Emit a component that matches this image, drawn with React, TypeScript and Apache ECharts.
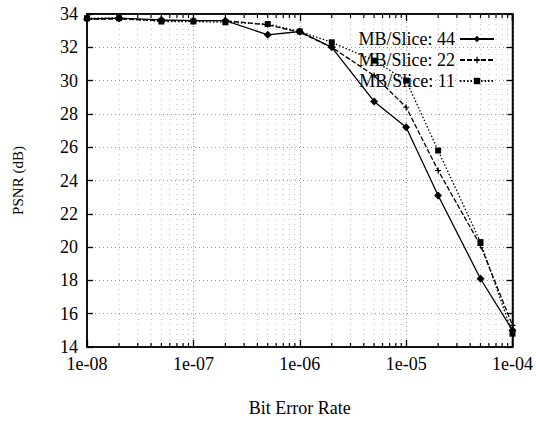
import React, { useEffect, useRef } from "react";
import * as echarts from "echarts";

const berValues = [1e-8, 2e-8, 5e-8, 1e-7, 2e-7, 5e-7, 1e-6, 2e-6, 5e-6, 1e-5, 2e-5, 5e-5, 1e-4];
const psnr44 = [33.7, 33.75, 33.65, 33.6, 33.6, 32.75, 32.95, 32.0, 28.75, 27.2, 23.1, 18.1, 15.0];
const psnr22 = [33.7, 33.7, 33.6, 33.6, 33.6, 33.35, 32.9, 32.0, 30.3, 28.4, 24.6, 20.1, 15.3];
const psnr11 = [33.75, 33.75, 33.55, 33.55, 33.5, 33.4, 32.95, 32.3, 31.2, 30.0, 25.8, 20.3, 14.8];
const seriesNames = ["MB/Slice: 44", "MB/Slice: 22", "MB/Slice: 11"];
const xTickLabels = ["1e-08", "1e-07", "1e-06", "1e-05", "1e-04"];
const decadeStarts = [1e-8, 1e-7, 1e-6, 1e-5];
const minorMultipliers = [2, 3, 4, 5, 6, 7, 8, 9];

const FONT = "Liberation Serif";
const PLUS = "path://M4,0 L6,0 L6,4 L10,4 L10,6 L6,6 L6,10 L4,10 L4,6 L0,6 L0,4 L4,4 Z";

export default function App() {
  const ref = useRef<HTMLDivElement>(null);
  useEffect(() => {
    if (!ref.current) return;
    const chart = echarts.init(ref.current, undefined, { renderer: "svg" });
    const minorX: number[] = [];
    decadeStarts.forEach((d) => minorMultipliers.forEach((m) => minorX.push(d * m)));
    const pair = (ys: number[]) => berValues.map((x, i) => [x, ys[i]]);
    const line = (name: string, ys: number[], symbol: string, size: number, type: any) => ({
      name,
      type: "line",
      data: pair(ys),
      symbol,
      symbolSize: size,
      lineStyle: { color: "#000", width: 1.3, type },
      itemStyle: { color: "#000" },
      z: 5,
    });
    chart.setOption({
      animation: false,
      backgroundColor: "#fff",
      textStyle: { fontFamily: FONT, color: "#000" },
      grid: {
        left: 87,
        right: 19,
        top: 14,
        bottom: 74,
        show: true,
        borderColor: "#000",
        borderWidth: 1.5,
      },
      legend: {
        data: seriesNames,
        orient: "vertical",
        right: 36,
        top: 25,
        align: "right",
        itemWidth: 34,
        itemHeight: 8,
        itemGap: 3,
        textStyle: { fontFamily: FONT, fontSize: 18, color: "#000" },
      },
      xAxis: [
        {
          type: "log",
          logBase: 10,
          min: 1e-8,
          max: 1e-4,
          name: "Bit Error Rate",
          nameLocation: "middle",
          nameGap: 52,
          nameTextStyle: { fontFamily: FONT, fontSize: 18, color: "#000" },
          axisLine: { lineStyle: { color: "#000", width: 1.5 } },
          axisTick: { inside: true, length: 7, lineStyle: { color: "#000", width: 1.3 } },
          axisLabel: {
            fontFamily: FONT,
            fontSize: 18,
            color: "#000",
            margin: 8,
            formatter: (v: number) => xTickLabels[Math.round(Math.log10(v)) + 8] ?? "",
          },
          splitLine: { show: true, lineStyle: { color: "#999", type: [1, 3], width: 1 } },
        },
        {
          type: "log",
          logBase: 10,
          min: 1e-8,
          max: 1e-4,
          position: "top",
          axisLine: { lineStyle: { color: "#000", width: 1.5 } },
          axisTick: { inside: true, length: 7, lineStyle: { color: "#000", width: 1.3 } },
          axisLabel: { show: false },
          splitLine: { show: false },
        },
      ],
      yAxis: [
        {
          type: "value",
          min: 14,
          max: 34,
          interval: 2,
          name: "PSNR (dB)",
          nameLocation: "middle",
          nameGap: 62,
          nameRotate: 90,
          nameTextStyle: { fontFamily: FONT, fontSize: 15, color: "#000" },
          axisLine: { show: true, lineStyle: { color: "#000", width: 1.5 } },
          axisTick: { show: true, inside: true, length: 6, lineStyle: { color: "#000", width: 1.3 } },
          axisLabel: { fontFamily: FONT, fontSize: 18, color: "#000", margin: 9 },
          splitLine: { show: true, lineStyle: { color: "#999", type: [1, 3], width: 1 } },
        },
        {
          type: "value",
          min: 14,
          max: 34,
          interval: 2,
          position: "right",
          axisLine: { show: true, lineStyle: { color: "#000", width: 1.5 } },
          axisTick: { show: true, inside: true, length: 6, lineStyle: { color: "#000", width: 1.3 } },
          axisLabel: { show: false },
          splitLine: { show: false },
        },
      ],
      series: [
        {
          name: "minor",
          type: "custom",
          silent: true,
          z: 1,
          data: minorX.map((x) => [x]),
          renderItem: (_p: any, api: any) => {
            const x = api.value(0);
            const top = api.coord([x, 34]);
            const bottom = api.coord([x, 14]);
            return {
              type: "group",
              children: [
                {
                  type: "line",
                  shape: { x1: top[0], y1: top[1], x2: bottom[0], y2: bottom[1] },
                  style: { stroke: "#bbb", lineWidth: 1, lineDash: [1, 4] },
                },
                {
                  type: "line",
                  shape: { x1: bottom[0], y1: bottom[1], x2: bottom[0], y2: bottom[1] - 4 },
                  style: { stroke: "#000", lineWidth: 1.2 },
                },
                {
                  type: "line",
                  shape: { x1: top[0], y1: top[1], x2: top[0], y2: top[1] + 4 },
                  style: { stroke: "#000", lineWidth: 1.2 },
                },
              ],
            };
          },
        },
        line(seriesNames[0], psnr44, "diamond", 8, "solid"),
        line(seriesNames[1], psnr22, PLUS, 6, [5, 2]),
        line(seriesNames[2], psnr11, "rect", 6, [1.5, 2]),
      ],
    });
    return () => chart.dispose();
  }, []);
  return (
    <div
      ref={ref}
      style={{ position: "fixed", left: 0, top: 0, width: 536, height: 422 }}
    />
  );
}
